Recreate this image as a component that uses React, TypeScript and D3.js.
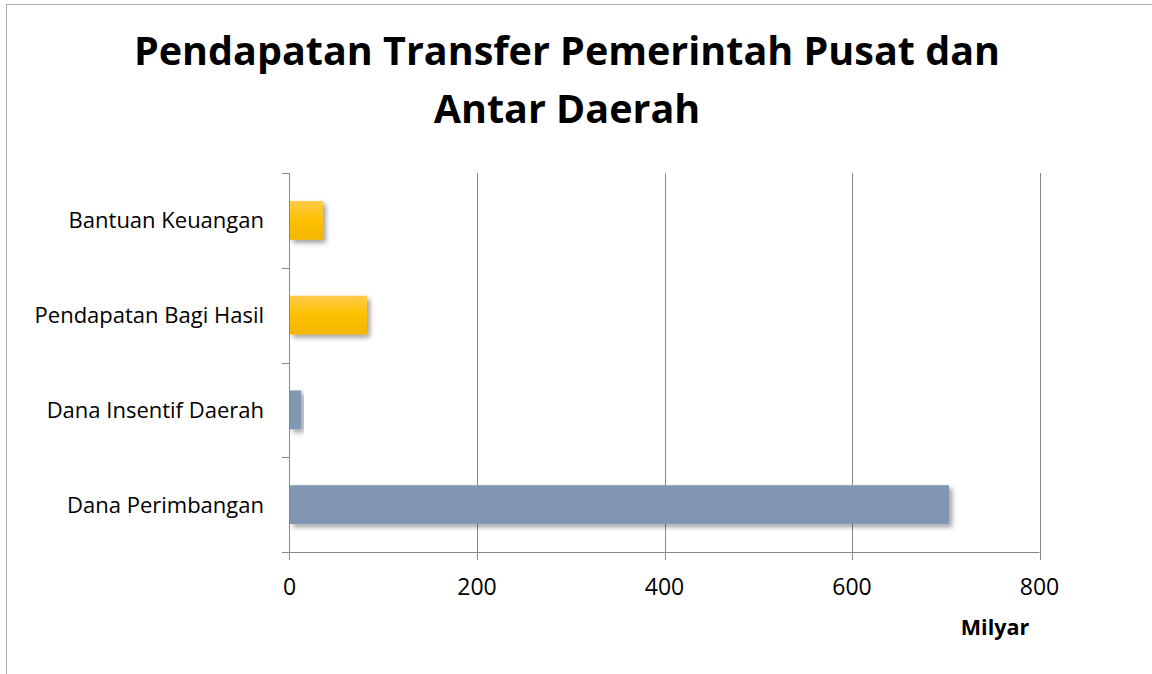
import React from 'react';
import * as d3 from 'd3';

// chart data
const categories = ['Bantuan Keuangan', 'Pendapatan Bagi Hasil', 'Dana Insentif Daerah', 'Dana Perimbangan'];
const values = [35, 82, 12, 703];
const barColors = ['gold', 'gold', 'blue', 'blue'];
const xTicks = [0, 200, 400, 600, 800];
const titleLines = ['Pendapatan Transfer Pemerintah Pusat dan', 'Antar Daerah'];
const unitLabel = 'Milyar';

const width = 1152;
const height = 674;
const font = "'Open Sans', 'Noto Sans', sans-serif";

export default function App() {
  const x = d3.scaleLinear().domain([0, 800]).range([289.5, 1039.5]);
  const y = d3.scaleBand<string>()
    .domain(categories)
    .range([173, 552])
    .paddingInner(0.59)
    .paddingOuter(0.295);
  const step = y.step();
  const boundaries = d3.range(categories.length + 1).map(i => 173 + i * step);
  const [top, bottom] = [173, 552];
  const gridColor = '#898989';

  return (
    <svg width={width} height={height} style={{ position: 'absolute', left: 0, top: 0, background: '#fff' }}>
      <defs>
        <linearGradient id="gold" x1="0" y1="0" x2="0" y2="1">
          <stop offset="0" stopColor="#FFCB4A" />
          <stop offset="0.5" stopColor="#FFC000" />
          <stop offset="1" stopColor="#F2B500" />
        </linearGradient>
        <filter id="shadow" x="-10%" y="-20%" width="130%" height="160%">
          <feDropShadow dx="3" dy="3" stdDeviation="2.5" floodColor="#000" floodOpacity="0.38" />
        </filter>
      </defs>
      <rect x={6.5} y={4.5} width={1300} height={800} fill="#fff" stroke="#ababab" strokeWidth={1} />

      {titleLines.map((t, i) => (
        <text key={t} x={567} y={65 + i * 58} textAnchor="middle" fontFamily={font}
          fontWeight="bold" fontSize={39.5} fill="#000">{t}</text>
      ))}

      {/* gridlines */}
      {xTicks.slice(1).map(t => (
        <line key={t} x1={Math.round(x(t)) + 0.5} x2={Math.round(x(t)) + 0.5} y1={top} y2={bottom + 8}
          stroke={gridColor} strokeWidth={1} />
      ))}

      {/* bars */}
      {categories.map((c, i) => (
        <rect key={c} x={x(0) + 0.5} y={y(c)} width={x(values[i]) - x(0)} height={y.bandwidth()}
          fill={barColors[i] === 'gold' ? 'url(#gold)' : '#8196B1'} filter="url(#shadow)" />
      ))}

      {/* axes */}
      <line x1={x(0)} x2={x(0)} y1={top} y2={bottom + 8} stroke={gridColor} />
      <line x1={282} x2={x(800)} y1={bottom + 0.5} y2={bottom + 0.5} stroke={gridColor} />
      {boundaries.map(b => (
        <line key={b} x1={282} x2={x(0)} y1={Math.round(b) + 0.5} y2={Math.round(b) + 0.5} stroke={gridColor} />
      ))}

      {categories.map(c => (
        <text key={c} x={264} y={(y(c) ?? 0) + y.bandwidth() / 2 + 8} textAnchor="end"
          fontFamily={font} fontSize={22} fill="#000">{c}</text>
      ))}

      {xTicks.map(t => (
        <text key={t} x={x(t)} y={595} textAnchor="middle" fontFamily={font} fontSize={23} fill="#000">{t}</text>
      ))}

      <text x={995} y={635} textAnchor="middle" fontFamily={font} fontWeight="bold" fontSize={21.5} fill="#000">{unitLabel}</text>
    </svg>
  );
}
